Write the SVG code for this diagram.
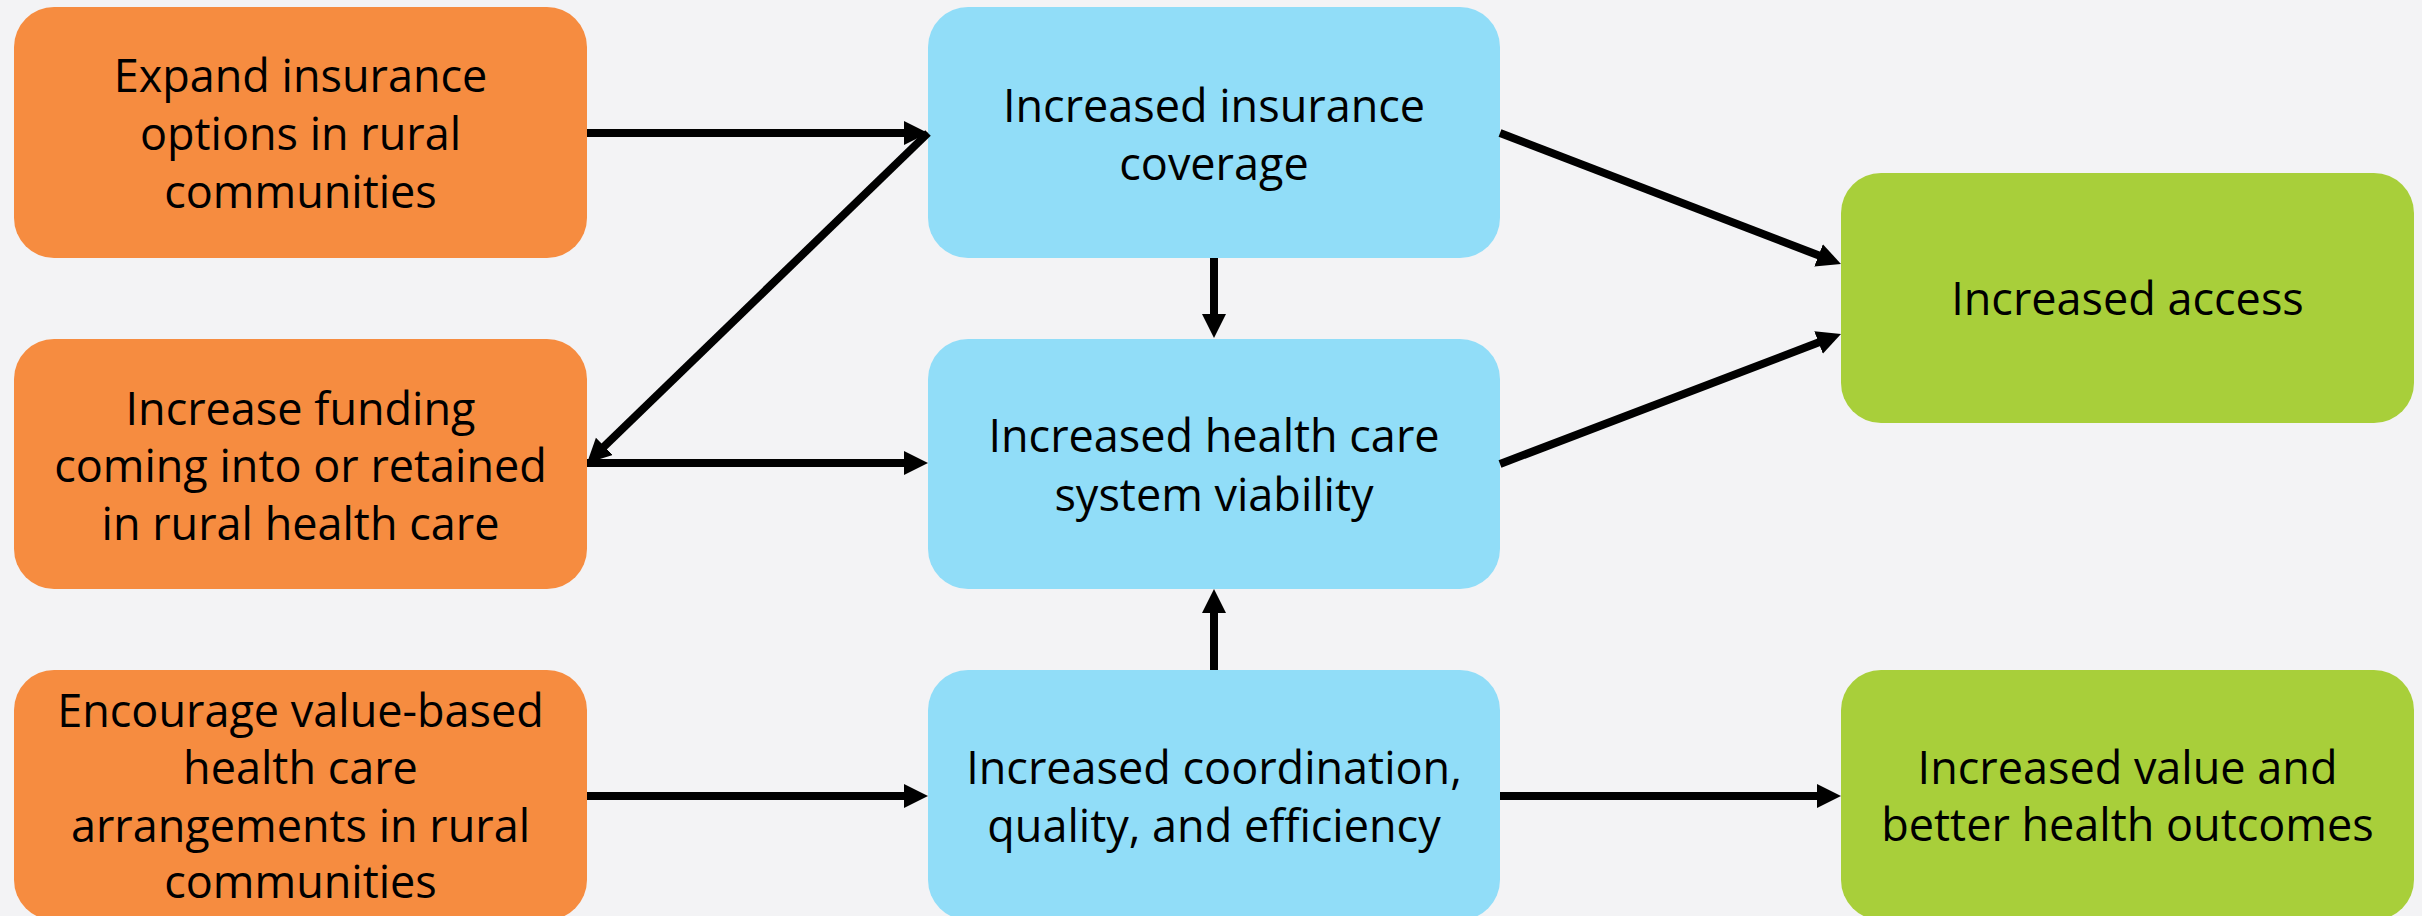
<svg xmlns="http://www.w3.org/2000/svg" width="2422" height="916" viewBox="0 0 2422 916">
<style>
.o{fill:#F68C40}
.b{fill:#91DDF8}
.g{fill:#A8CF3A}
text{font-family:"Open Sans","Noto Sans","Liberation Sans",sans-serif;font-size:45px;fill:#000;text-anchor:middle}
.c line{stroke:#000;stroke-width:8;marker-end:url(#ah)}
</style>
<defs>
<marker id="ah" markerUnits="userSpaceOnUse" markerWidth="26" markerHeight="26" refX="4" refY="12" orient="auto" viewBox="0 0 26 26">
<path d="M0,0 L24,12 L0,24 z" fill="#000"/>
</marker>
</defs>
<rect width="2422" height="916" fill="#F3F3F5"/>
<g id="n-expand">
<rect class="o" x="14" y="7" width="573" height="251" rx="40"/>
<text x="300.5" y="92">Expand insurance</text>
<text x="300.5" y="150">options in rural</text>
<text x="300.5" y="208">communities</text>
</g>
<g id="n-funding">
<rect class="o" x="14" y="339" width="573" height="250" rx="40"/>
<text x="300.5" y="425">Increase funding</text>
<text x="300.5" y="482">coming into or retained</text>
<text x="300.5" y="540">in rural health care</text>
</g>
<g id="n-value">
<rect class="o" x="14" y="670" width="573" height="250" rx="40"/>
<text x="300.5" y="727">Encourage value-based</text>
<text x="300.5" y="784">health care</text>
<text x="300.5" y="842">arrangements in rural</text>
<text x="300.5" y="898">communities</text>
</g>
<g id="n-coverage">
<rect class="b" x="928" y="7" width="572" height="251" rx="40"/>
<text x="1214" y="122">Increased insurance</text>
<text x="1214" y="180">coverage</text>
</g>
<g id="n-viability">
<rect class="b" x="928" y="339" width="572" height="250" rx="40"/>
<text x="1214" y="452">Increased health care</text>
<text x="1214" y="511">system viability</text>
</g>
<g id="n-coordination">
<rect class="b" x="928" y="670" width="572" height="250" rx="40"/>
<text x="1214" y="784">Increased coordination,</text>
<text x="1214" y="842">quality, and efficiency</text>
</g>
<g id="n-access">
<rect class="g" x="1841" y="173" width="573" height="250" rx="40"/>
<text x="2127.5" y="315">Increased access</text>
</g>
<g id="n-outcomes">
<rect class="g" x="1841" y="670" width="573" height="250" rx="40"/>
<text x="2127.5" y="784">Increased value and</text>
<text x="2127.5" y="841">better health outcomes</text>
</g>
<g id="connectors" class="c">
<line x1="587" y1="133" x2="908" y2="133"/>
<line x1="928" y1="133" x2="601.4" y2="449.1"/>
<line x1="587" y1="463" x2="908" y2="463"/>
<line x1="1214" y1="258" x2="1214" y2="318"/>
<line x1="1214" y1="670" x2="1214" y2="609"/>
<line x1="1500" y1="133" x2="1822.3" y2="256.8"/>
<line x1="1500" y1="464" x2="1822.3" y2="341.1"/>
<line x1="587" y1="796" x2="908" y2="796"/>
<line x1="1500" y1="796" x2="1821" y2="796"/>
</g>
</svg>
